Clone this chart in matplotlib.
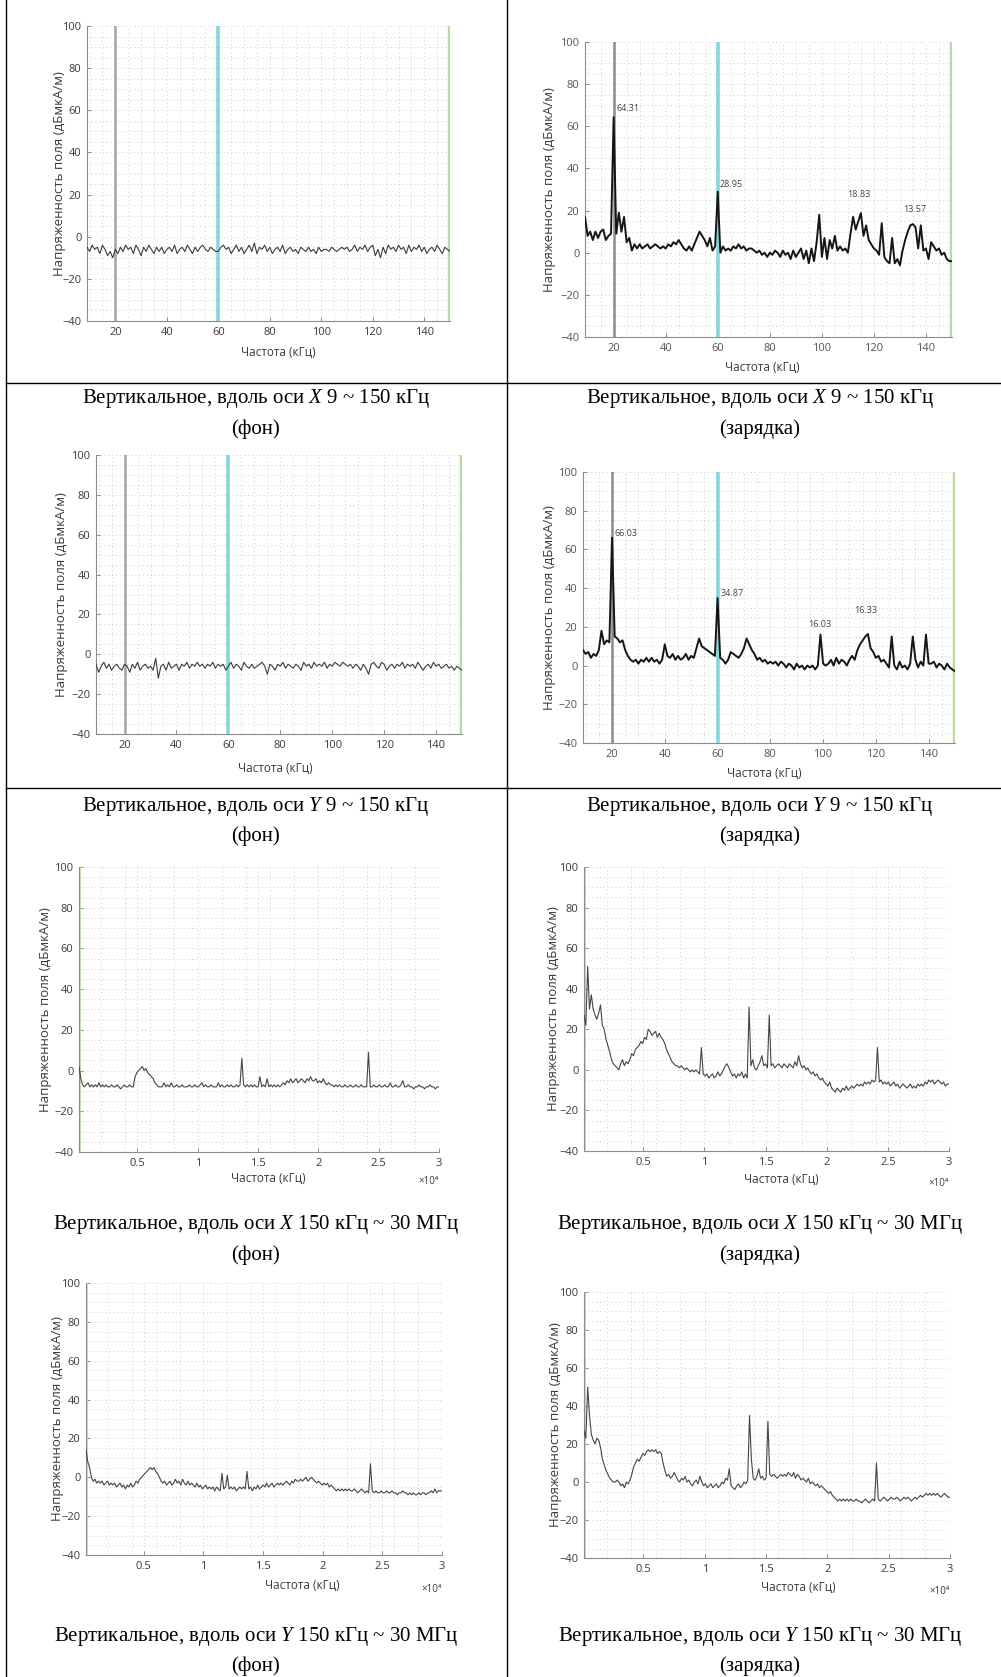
import numpy as np
import matplotlib
matplotlib.use("Agg")
import matplotlib.pyplot as plt
from matplotlib.lines import Line2D
from matplotlib.ticker import MultipleLocator, FixedLocator

plt.rcParams["font.family"] = ["Open Sans", "DejaVu Sans"]
plt.rcParams["mathtext.fontset"] = "custom"
plt.rcParams["mathtext.rm"] = "Liberation Serif"
plt.rcParams["mathtext.it"] = "Liberation Serif:italic"

# ---------------- data ----------------
# low band: 9 ... 150 kHz, 1 kHz step
freq_lf = np.arange(9, 151)

x_lf_background = [
    -5, -7, -4, -6, -5, -8, -4, -6, -9, -7,
    -10, -6, -8, -5, -7, -4, -6, -5, -8, -4,
    -6, -9, -5, -7, -4, -6, -8, -5, -7, -5,
    -8, -6, -5, -7, -4, -8, -6, -5, -7, -4,
    -6, -8, -5, -7, -5, -4, -6, -7, -5, -6,
    -7, -7, -5, -4, -6, -5, -8, -6, -4, -7,
    -5, -8, -6, -4, -7, -3, -8, -5, -6, -4,
    -7, -5, -8, -6, -5, -7, -4, -8, -6, -5,
    -7, -6, -8, -5, -6, -7, -5, -7, -6, -8,
    -5, -7, -6, -6, -7, -5, -6, -7, -6, -5,
    -6, -5, -7, -6, -4, -7, -5, -6, -4, -7,
    -5, -4, -9, -6, -10, -5, -8, -4, -6, -5,
    -7, -4, -6, -5, -8, -4, -7, -5, -6, -4,
    -7, -5, -8, -6, -5, -7, -4, -6, -8, -5,
    -6, -7,
]

x_lf_charging = [
    17, 8, 10, 6, 10, 7, 10, 11, 6, 8,
    9, 64.31, 9, 19, 10, 17, 5, 7, 1, 4,
    2, 4, 2, 3, 4, 2, 3, 4, 3, 2,
    3, 2, 4, 3, 5, 4, 6, 4, 2, 1,
    3, 1, 4, 7, 10, 8, 6, 3, 7, 1,
    3, 28.95, 0, 3, 1, 2, 1, 3, 2, 4,
    2, 3, 1, 2, 2, 1, 0, 1, -1, 0,
    -2, 0, -1, 1, 0, -2, 1, -1, 0, -3,
    1, -2, 0, 2, -3, 1, -5, 2, -4, 5,
    18, -2, 7, -3, 6, 2, 8, 1, 3, 1,
    2, 0, 9, 17, 11, 15, 18.83, 8, 13, 6,
    4, 2, 1, -1, 14, -2, -4, -5, 7, -5,
    -3, -6, 1, 6, 10, 13, 13.57, 12, 2, 13,
    1, 2, -3, 5, 3, 1, 2, -1, 0, -3,
    -4, -4,
]

y_lf_background = [
    -5, -9, -6, -4, -7, -5, -8, -6, -5, -7,
    -8, -5, -6, -9, -5, -7, -4, -8, -6, -5,
    -7, -6, -8, -2, -12, -6, -5, -8, -4, -7,
    -6, -5, -8, -5, -6, -4, -7, -5, -6, -4,
    -6, -5, -7, -5, -6, -4, -7, -5, -6, -5,
    -8, -6, -4, -7, -5, -6, -8, -4, -6, -7,
    -5, -7, -6, -5, -4, -6, -10, -5, -6, -8,
    -5, -6, -4, -7, -5, -6, -7, -5, -6, -8,
    -4, -6, -5, -7, -4, -6, -5, -6, -4, -7,
    -5, -6, -4, -5, -6, -4, -5, -6, -5, -7,
    -5, -6, -8, -5, -7, -10, -5, -4, -6, -7,
    -4, -5, -8, -6, -5, -7, -5, -6, -4, -7,
    -5, -6, -5, -7, -4, -6, -8, -6, -5, -7,
    -4, -6, -5, -7, -6, -5, -7, -6, -8, -6,
    -7, -8,
]

y_lf_charging = [
    8, 6, 7, 4, 6, 5, 8, 18, 11, 13,
    12, 66.03, 15, 14, 12, 13, 8, 5, 3, 2,
    3, 1, 3, 2, 4, 2, 4, 2, 3, 1,
    3, 11, 5, 4, 6, 3, 5, 3, 4, 6,
    3, 5, 4, 9, 14, 10, 9, 8, 7, 6,
    5, 34.87, 4, 3, 1, 3, 7, 6, 5, 4,
    6, 9, 14, 11, 8, 6, 3, 4, 2, 3,
    1, 2, 1, 2, 0, 2, 1, -1, 1, 0,
    -2, 1, -1, 0, -2, 0, -1, 0, -2, 0,
    16.03, 1, 0, 1, 3, 0, 4, 1, 3, 2,
    0, 3, 5, 3, 8, 11, 13, 15, 16.33, 9,
    7, 4, 5, 2, 3, 1, -1, 15, 0, -2,
    2, -1, 0, -2, 1, 15, 3, -1, 2, 0,
    16, 1, 1, 2, -1, 1, 0, -2, 1, -1,
    -2, -3,
]

# high band: 150 kHz ... 30 MHz, 150 kHz step
freq_hf = np.arange(150, 30001, 150)

x_hf_background = [
    2, -4, -7, -8, -7, -6, -8, -7, -8, -7,
    -8, -6, -8, -7, -8, -7, -8, -8, -7, -8,
    -8, -7, -8, -9, -8, -7, -8, -8, -7, -8,
    -8, -3, -1, 0, 1, 2, 0, 1, -1, -2,
    -3, -4, -6, -7, -8, -8, -8, -6, -8, -7,
    -8, -6, -8, -8, -7, -8, -8, -7, -8, -8,
    -8, -7, -8, -8, -7, -8, -8, -7, -6, -8,
    -7, -8, -8, -7, -8, -8, -8, -6, -8, -7,
    -8, -8, -7, -8, -7, -8, -8, -7, -8, -7,
    6, -7, -8, -7, -8, -7, -8, -7, -8, -8,
    -3, -8, -7, -8, -4, -8, -7, -8, -7, -8,
    -7, -8, -7, -6, -7, -5, -6, -4, -6, -5,
    -4, -6, -5, -4, -5, -6, -4, -5, -3, -5,
    -5, -4, -6, -5, -6, -4, -6, -7, -6, -7,
    -7, -8, -7, -8, -7, -8, -8, -7, -8, -8,
    -7, -8, -8, -7, -8, -8, -7, -8, -8, -8,
    9, -8, -8, -7, -8, -8, -7, -8, -8, -7,
    -8, -8, -6, -8, -8, -7, -8, -8, -7, -5,
    -8, -8, -7, -8, -8, -9, -8, -8, -7, -8,
    -8, -9, -8, -8, -7, -8, -8, -9, -8, -8,
]

x_hf_charging = [
    27, 22, 51, 30, 37, 30, 27, 25, 28, 32,
    22, 20, 15, 12, 9, 5, 3, 2, 1, 0,
    3, 5, 2, 4, 3, 5, 8, 7, 10, 11,
    12, 14, 13, 16, 15, 20, 19, 17, 18, 19,
    16, 18, 16, 15, 13, 10, 8, 6, 4, 3,
    2, 2, 1, 2, 1, 0, 1, 0, -1, 0,
    -1, 0, -1, -2, 11, -2, -3, -2, -4, -3,
    -2, -4, -3, -1, -3, -2, 0, 2, 3, 1,
    -1, -3, -2, -4, -2, -3, -1, -4, -2, -4,
    31, 2, 5, 1, 0, 2, 4, 7, 2, 3,
    1, 27, 2, 3, 1, 2, 3, 2, 1, 3,
    2, 1, 3, 2, 1, 4, 2, 7, 3, 1,
    2, 0, 1, -1, -2, -1, -3, -2, -4, -5,
    -4, -6, -7, -8, -6, -9, -10, -11, -9, -10,
    -11, -9, -10, -8, -10, -9, -8, -9, -8, -7,
    -8, -7, -8, -6, -7, -6, -7, -5, -6, -5,
    11, -6, -5, -7, -6, -7, -6, -8, -7, -6,
    -8, -7, -9, -8, -7, -8, -9, -8, -7, -9,
    -8, -9, -7, -8, -7, -8, -6, -7, -5, -6,
    -5, -7, -6, -5, -6, -7, -6, -8, -7, -7,
]

y_hf_background = [
    14, 8, 5, 0, -2, -1, -3, -2, -3, -2,
    -4, -3, -2, -4, -3, -4, -3, -5, -4, -3,
    -5, -4, -6, -4, -5, -3, -5, -4, -2, -3,
    -1, 0, 1, 2, 3, 4, 5, 4, 5, 3,
    2, 0, -2, -3, -2, -4, -3, -2, -4, -3,
    -1, -3, -2, -4, -1, -3, -4, -2, -4, -3,
    -4, -5, -3, -5, -4, -6, -5, -4, -6, -5,
    -6, -5, -7, -5, -6, -7, 2, -6, -5, 1,
    -6, -5, -6, -5, -7, -6, -5, -6, -5, -6,
    3, -6, -5, -7, -5, -6, -4, -6, -5, -4,
    -5, -3, -5, -4, -3, -5, -4, -3, -4, -3,
    -4, -3, -2, -3, -4, -2, -3, -1, -2, -2,
    -1, -2, -1, 0, -2, -1, 0, -1, -2, -3,
    -2, -3, -4, -3, -4, -3, -5, -4, -5, -6,
    -7, -6, -7, -6, -7, -6, -7, -6, -7, -7,
    -6, -7, -8, -7, -6, -7, -8, -7, -8, 7,
    -7, -8, -7, -8, -8, -7, -8, -8, -7, -8,
    -8, -7, -8, -8, -9, -8, -8, -7, -8, -8,
    -9, -8, -9, -8, -9, -9, -8, -9, -8, -8,
    -9, -8, -8, -7, -8, -6, -8, -7, -7, -7,
]

y_hf_charging = [
    27, 23, 50, 35, 25, 22, 20, 23, 22, 18,
    12, 9, 6, 4, 2, 1, 0, 0, 1, 0,
    -2, -1, -3, 0, -1, 1, 4, 8, 10, 12,
    11, 13, 15, 14, 16, 17, 16, 17, 16, 17,
    15, 16, 15, 10, 6, 3, 4, 2, 3, 5,
    3, 1, 0, 2, 1, 3, 0, 1, -1, -2,
    0, 1, -1, 3, 0, -2, -1, -3, -2, -1,
    -3, -2, -1, -3, -2, 0, -1, 2, 1, 7,
    -2, -3, -4, -2, -1, -3, -2, 0, -1, 1,
    35, 12, 2, 1, 3, 7, 2, 3, 1, 2,
    32, 4, 3, 4, 3, 2, 3, 4, 3, 4,
    3, 5, 4, 3, 5, 2, 4, 3, 1, 2,
    1, 0, 2, -1, 0, -1, -2, -1, -3, -2,
    -3, -4, -5, -6, -5, -7, -8, -9, -10, -9,
    -10, -9, -10, -9, -10, -9, -10, -10, -9, -10,
    -10, -11, -10, -9, -10, -11, -10, -9, -10, 10,
    -9, -10, -9, -8, -9, -10, -9, -8, -9, -9,
    -8, -9, -10, -9, -8, -9, -8, -9, -10, -9,
    -8, -9, -8, -7, -8, -7, -6, -7, -6, -7,
    -6, -7, -6, -7, -8, -7, -6, -7, -8, -8,
]

# marker frequencies on the low-band plots (kHz)
marker_freqs = [20, 60, 150]
# frequencies of annotated peaks on the charging plots (kHz)
x_peak_freqs = [20, 60, 115, 135]
y_peak_freqs = [20, 60, 99, 117]

lf_ticks = [20, 40, 60, 80, 100, 120, 140]
hf_ticks = [5000, 10000, 15000, 20000, 25000, 30000]
hf_tick_labels = ["0.5", "1", "1.5", "2", "2.5", "3"]
y_ticks = [-40, -20, 0, 20, 40, 60, 80, 100]

ylabel_text = "Напряженность поля (дБмкА/м)"
xlabel_text = "Частота (кГц)"

captions = [
    ["Вертикальное, вдоль оси $X$ 9 ~ 150 кГц", "Вертикальное, вдоль оси $X$ 9 ~ 150 кГц"],
    ["Вертикальное, вдоль оси $Y$ 9 ~ 150 кГц", "Вертикальное, вдоль оси $Y$ 9 ~ 150 кГц"],
    ["Вертикальное, вдоль оси $X$ 150 кГц ~ 30 МГц", "Вертикальное, вдоль оси $X$ 150 кГц ~ 30 МГц"],
    ["Вертикальное, вдоль оси $Y$ 150 кГц ~ 30 МГц", "Вертикальное, вдоль оси $Y$ 150 кГц ~ 30 МГц"],
]
modes = ["(фон)", "(зарядка)"]

# ---------------- layout (pixels) ----------------
W, H = 1001, 1677
fig = plt.figure(figsize=(W / 100, H / 100), dpi=100)


def rect(x0, y0, x1, y1):
    return [x0 / W, 1 - y1 / H, (x1 - x0) / W, (y1 - y0) / H]


panels = [
    dict(box=(87, 26, 450, 321), band="lf", series=x_lf_background, peaks=None,
         ylab_x=59, xlab=(278, 352)),
    dict(box=(585, 42, 952, 337), band="lf", series=x_lf_charging, peaks=x_peak_freqs,
         ylab_x=550, xlab=(762, 367)),
    dict(box=(96, 455, 462, 734), band="lf", series=y_lf_background, peaks=None,
         ylab_x=62, xlab=(275, 768)),
    dict(box=(583, 472, 955, 743), band="lf", series=y_lf_charging, peaks=y_peak_freqs,
         ylab_x=550, xlab=(764, 773)),
    dict(box=(79, 867, 439, 1152), band="hf", series=x_hf_background, peaks=None,
         ylab_x=45, xlab=(268, 1178)),
    dict(box=(584, 867, 949, 1151), band="hf", series=x_hf_charging, peaks=None,
         ylab_x=553, xlab=(781, 1179)),
    dict(box=(86, 1283, 442, 1555), band="hf", series=y_hf_background, peaks=None,
         ylab_x=58, xlab=(302, 1585)),
    dict(box=(584, 1292, 950, 1558), band="hf", series=y_hf_charging, peaks=None,
         ylab_x=555, xlab=(798, 1587)),
]

# label offsets for annotated peaks: (dx kHz, dy dB, ha)
peak_label_style = {
    "x": [(1.0, 2.0, "left"), (0.6, 1.5, "left"), (-0.7, 6.5, "center"), (0.6, 5.0, "center")],
    "y": [(1.0, 0.0, "left"), (1.0, 0.2, "left"), (-0.4, 2.7, "center"), (-1.0, 10.0, "center")],
}

grid_style = dict(linestyle=(0, (1, 3)), color="#cdcdcd", linewidth=0.7)
text_col = "#3a3a3a"

for k, p in enumerate(panels):
    x0, y0, x1, y1 = p["box"]
    ax = fig.add_axes(rect(*p["box"]))
    right_col = (k % 2 == 1)
    vals = np.asarray(p["series"], dtype=float)

    if p["band"] == "lf":
        freq = freq_lf
        ax.set_xlim(9, 150)
        ax.xaxis.set_major_locator(FixedLocator(lf_ticks))
        ax.xaxis.set_minor_locator(MultipleLocator(5))
        ax.axvline(marker_freqs[0], color="#a4a4a4" if not right_col else "#8a8a8a", lw=1.8, zorder=2)
        ax.axvline(marker_freqs[1], color="#86d6de", lw=2.6, zorder=2)
        ax.axvline(marker_freqs[2], color="#b8dba0", lw=3.2, zorder=2)
        if right_col:
            ax.plot(freq, vals, color="#151515", lw=1.4, zorder=3)
        else:
            ax.plot(freq, vals, color="#3c3c3c", lw=0.8, zorder=3)
    else:
        freq = freq_hf
        ax.set_xlim(150, 30000)
        ax.xaxis.set_major_locator(FixedLocator(hf_ticks))
        ax.set_xticklabels(hf_tick_labels)
        ax.xaxis.set_minor_locator(MultipleLocator(2000))
        ax.axvline(150, color="#b8dba0", lw=2.6, zorder=2)
        ax.plot(freq, vals, color="#454545", lw=0.8, zorder=3)
        # power-of-ten multiplier under the axis
        ax.text(1.0, -(p["xlab"][1] + 4 - y1) / (y1 - y0), "×10⁴",
                transform=ax.transAxes, ha="right", va="center",
                fontsize=7, color=text_col, family=["Open Sans", "DejaVu Sans"])

    ax.set_ylim(-40, 100)
    ax.yaxis.set_major_locator(FixedLocator(y_ticks))
    ax.yaxis.set_minor_locator(MultipleLocator(5))
    ax.grid(which="both", **grid_style)
    ax.set_axisbelow(True)

    for side in ("top", "right"):
        ax.spines[side].set_visible(False)
    for side in ("left", "bottom"):
        ax.spines[side].set_color("#8c8c8c")
        ax.spines[side].set_linewidth(0.8)
    ax.tick_params(which="major", direction="in", length=3, width=0.7, color="#8c8c8c",
                   labelsize=8, labelcolor=text_col if not right_col or k >= 4 else "#555555",
                   pad=4)
    ax.tick_params(which="minor", length=0)

    ax.set_ylabel(ylabel_text, fontsize=9.5, color=text_col)
    ax.yaxis.set_label_coords((p["ylab_x"] - x0) / (x1 - x0), 0.5)
    ax.yaxis.label.set_va("center")
    ax.set_xlabel(xlabel_text, fontsize=8.5, color=text_col)
    ax.xaxis.set_label_coords((p["xlab"][0] - x0) / (x1 - x0), -(p["xlab"][1] - y1) / (y1 - y0))
    ax.xaxis.label.set_va("center")

    if p["peaks"] is not None:
        style = peak_label_style["x" if k == 1 else "y"]
        for f, (dx, dy, ha) in zip(p["peaks"], style):
            v = vals[int(np.where(freq == f)[0][0])]
            ax.text(f + dx, v + dy, f"{v:.2f}", fontsize=6.5, color="#444444",
                    ha=ha, va="bottom", zorder=4)

# ---------------- table frame and captions ----------------
frame = dict(color="black", linewidth=1.0, transform=fig.transFigure)
for xv in (6, 507):
    fig.add_artist(Line2D([xv / W, xv / W], [0, 1], **frame))
for yv in (383, 788):
    fig.add_artist(Line2D([6 / W, 1], [1 - yv / H, 1 - yv / H], **frame))

col_centers = [256, 760]
row_lines = [(399, 429), (807, 836), (1225, 1255), (1637, 1666)]
for r, (ya, yb) in enumerate(row_lines):
    for c in range(2):
        fig.text(col_centers[c] / W, 1 - ya / H, captions[r][c], ha="center", va="center",
                 fontsize=15, family="Liberation Serif", color="black")
        fig.text(col_centers[c] / W, 1 - yb / H, modes[c], ha="center", va="center",
                 fontsize=15, family="Liberation Serif", color="black")

fig.savefig("out.png", dpi=100, facecolor="white")
